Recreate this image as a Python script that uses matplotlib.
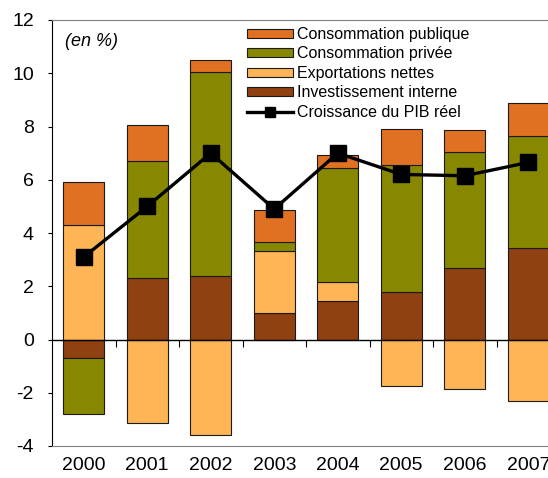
import numpy as np
import matplotlib.pyplot as plt
import matplotlib.transforms as mtransforms

plt.rcParams['font.family'] = ['Liberation Sans', 'DejaVu Sans']

# data (en %)
years = ['2000', '2001', '2002', '2003', '2004', '2005', '2006', '2007']
investissement = [-0.7, 2.3, 2.4, 1.0, 1.45, 1.8, 2.7, 3.45]
exportations = [4.3, -3.15, -3.57, 2.32, 0.7, -1.75, -1.85, -2.3]
conso_privee = [-2.1, 4.4, 7.65, 0.33, 4.3, 4.77, 4.36, 4.2]
conso_publique = [1.63, 1.37, 0.45, 1.2, 0.48, 1.32, 0.82, 1.25]
pib = [3.1, 5.0, 7.0, 4.9, 7.0, 6.2, 6.15, 6.65]

colors = {
    'inv': '#8F4111',
    'exp': '#FFB555',
    'priv': '#878700',
    'pub': '#E07022',
}

fig = plt.figure(figsize=(5.48, 4.78), dpi=100)
# right side of the axes runs past the picture edge (cropped like the original)
ax = fig.add_axes([52 / 548, 1 - 446 / 478, 508 / 548, 426 / 478])

x = np.arange(len(years))
w = 0.65
pos_base = np.zeros(len(years))
neg_base = np.zeros(len(years))
bars = {}
for key, vals in [('inv', investissement), ('exp', exportations),
                  ('priv', conso_privee), ('pub', conso_publique)]:
    vals = np.array(vals)
    bottom = np.where(vals >= 0, pos_base, neg_base)
    bars[key] = ax.bar(x, vals, w, bottom=bottom, color=colors[key],
                       edgecolor='#1a1a1a', linewidth=0.8, zorder=2)
    pos_base = pos_base + np.where(vals >= 0, vals, 0)
    neg_base = neg_base + np.where(vals < 0, vals, 0)

line, = ax.plot(x, pib, color='black', lw=2.4, marker='s', markersize=12,
                zorder=4)

ax.set_xlim(-0.5, len(years) - 0.5)
ax.set_ylim(-4, 12)
ax.set_yticks(range(-4, 13, 2))
ax.set_yticklabels([str(v) for v in range(-4, 13, 2)])
ax.tick_params(axis='y', length=3, width=0.8, pad=10, labelsize=14)
ax.set_xticks(x)
ax.set_xticklabels(years)
ax.tick_params(axis='x', length=0, pad=8, labelsize=14)

ax.spines['right'].set_visible(False)
ax.spines['top'].set_color('#808080')
ax.spines['bottom'].set_color('#808080')
ax.spines['left'].set_color('black')

# zero line with category separator ticks
ax.axhline(0, color='black', lw=1, zorder=3)
trans = mtransforms.blended_transform_factory(ax.transData, ax.transData)
ax.vlines(np.arange(len(years)) + 0.5, -0.3, 0, color='black', lw=0.8,
          transform=trans, zorder=3)

fig.text(65 / 548, 1 - 42 / 478, '(en %)', fontsize=13,
         style='italic', va='center', ha='left')

handles = [bars['pub'], bars['priv'], bars['exp'], bars['inv'], line]
labels = ['Consommation publique', 'Consommation privée',
          'Exportations nettes', 'Investissement interne',
          'Croissance du PIB réel']
fig.legend(handles, labels, loc='upper left',
           bbox_to_anchor=(247 / 548, 1 - 27 / 478), frameon=False,
           fontsize=11.5, borderpad=0, borderaxespad=0, handlelength=2.85,
           handleheight=0.45, handletextpad=0.3, labelspacing=0.28,
           markerscale=0.6)

fig.savefig('out.png', dpi=100)
